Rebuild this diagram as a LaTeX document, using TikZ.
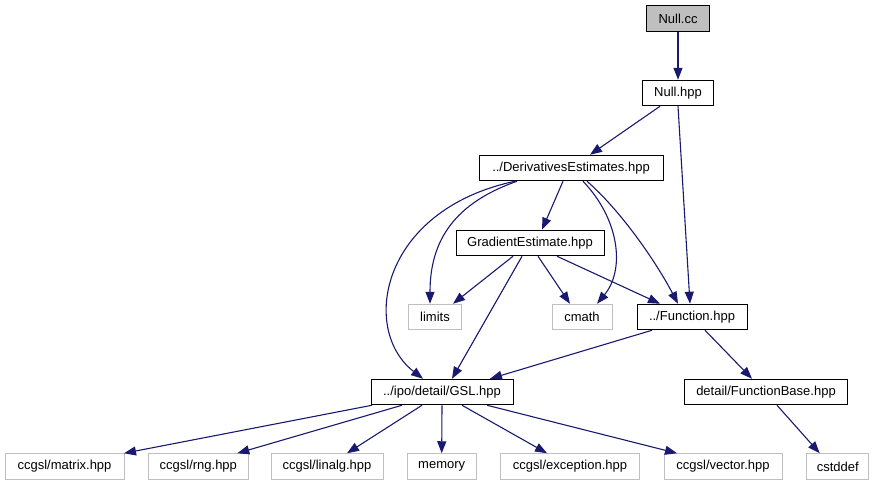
\documentclass[tikz,border=0pt]{standalone}
\usepackage{fontspec}
\setmainfont{Liberation Sans}
\usetikzlibrary{arrows.meta}
\definecolor{edgeblue}{HTML}{191970}
\definecolor{lightgrayb}{HTML}{BFBFBF}
\begin{document}
\begin{tikzpicture}[x=1pt,y=-1pt,
  every node/.style={font=\fontsize{13}{15}\selectfont, inner sep=0pt, minimum height=25.5pt},
  blk/.style={draw=black, line width=1pt, fill=white},
  gry/.style={draw=lightgrayb, line width=1pt, fill=white},
  cur/.style={draw=black, line width=1pt, fill=lightgrayb},
  dep/.style={draw=edgeblue, line width=1.1pt, -{Triangle[length=12pt,width=9pt]}}]
\useasboundingbox (0,0) rectangle (877,485);
\node[cur, minimum width=63pt] (nullcc) at (678,18.5) {Null.cc};
\node[blk, minimum width=70.6pt] (nullhpp) at (678,93) {Null.hpp};
\node[blk, minimum width=184pt] (de) at (571,168) {../DerivativesEstimates.hpp};
\node[blk, minimum width=148pt] (ge) at (530,243) {GradientEstimate.hpp};
\node[gry, minimum width=53pt] (lim) at (435,317) {limits};
\node[gry, minimum width=60pt] (cm) at (582,317) {cmath};
\node[blk, minimum width=110pt] (func) at (692,317) {../Function.hpp};
\node[blk, minimum width=142pt] (gsl) at (442,392) {../ipo/detail/GSL.hpp};
\node[blk, minimum width=163pt] (fb) at (766,392) {detail/FunctionBase.hpp};
\node[gry, minimum width=119pt] (matrix) at (64.5,466.5) {ccgsl/matrix.hpp};
\node[gry, minimum width=100pt] (rng) at (198.3,466.5) {ccgsl/rng.hpp};
\node[gry, minimum width=112pt] (linalg) at (327,466.5) {ccgsl/linalg.hpp};
\node[gry, minimum width=69pt] (mem) at (441.7,466.5) {memory};
\node[gry, minimum width=139pt] (exc) at (570,466.5) {ccgsl/exception.hpp};
\node[gry, minimum width=118pt] (vec) at (723,466.5) {ccgsl/vector.hpp};
\node[gry, minimum width=62pt] (cst) at (837.7,466.5) {cstddef};

\draw[dep] (nullcc.south) -- (nullhpp.north);
\draw[dep] ([xshift=-18pt]nullhpp.south) -- ([xshift=19pt]de.north);
\draw[dep] (nullhpp.south) -- ([xshift=-2pt]func.north);
\draw[dep] ([xshift=-8pt]de.south) -- ([xshift=12pt]ge.north);
\draw[dep] ([xshift=-54pt]de.south) .. controls (455,203) and (430,240) .. ([xshift=-5pt]lim.north);
\draw[dep] ([xshift=-56pt]de.south) .. controls (380,210) and (360,330) .. ([xshift=-19pt]gsl.north);
\draw[dep] ([xshift=12pt]de.south) .. controls (620,220) and (625,270) .. ([xshift=15pt]cm.north);
\draw[dep] ([xshift=16pt]de.south) .. controls (620,210) and (655,260) .. ([xshift=-14pt]func.north);
\draw[dep] ([xshift=-17pt]ge.south) -- ([xshift=18pt]lim.north);
\draw[dep] ([xshift=-8pt]ge.south) -- ([xshift=10pt]gsl.north);
\draw[dep] ([xshift=8pt]ge.south) -- ([xshift=-12pt]cm.north);
\draw[dep] ([xshift=27pt]ge.south) -- ([xshift=-32pt]func.north);
\draw[dep] ([xshift=-40pt]func.south) -- ([xshift=48pt]gsl.north);
\draw[dep] ([xshift=13pt]func.south) -- ([xshift=-14pt]fb.north);
\draw[dep] ([xshift=-70pt]gsl.south) -- ([xshift=59.5pt]matrix.north);
\draw[dep] ([xshift=-40pt]gsl.south) -- ([xshift=39pt]rng.north);
\draw[dep] ([xshift=-20pt]gsl.south) -- ([xshift=20pt]linalg.north);
\draw[dep] (gsl.south) -- (mem.north);
\draw[dep] ([xshift=20pt]gsl.south) -- ([xshift=-23pt]exc.north);
\draw[dep] ([xshift=45pt]gsl.south) -- ([xshift=-46pt]vec.north);
\draw[dep] ([xshift=11pt]fb.south) -- ([xshift=-18pt]cst.north);
\end{tikzpicture}
\end{document}
